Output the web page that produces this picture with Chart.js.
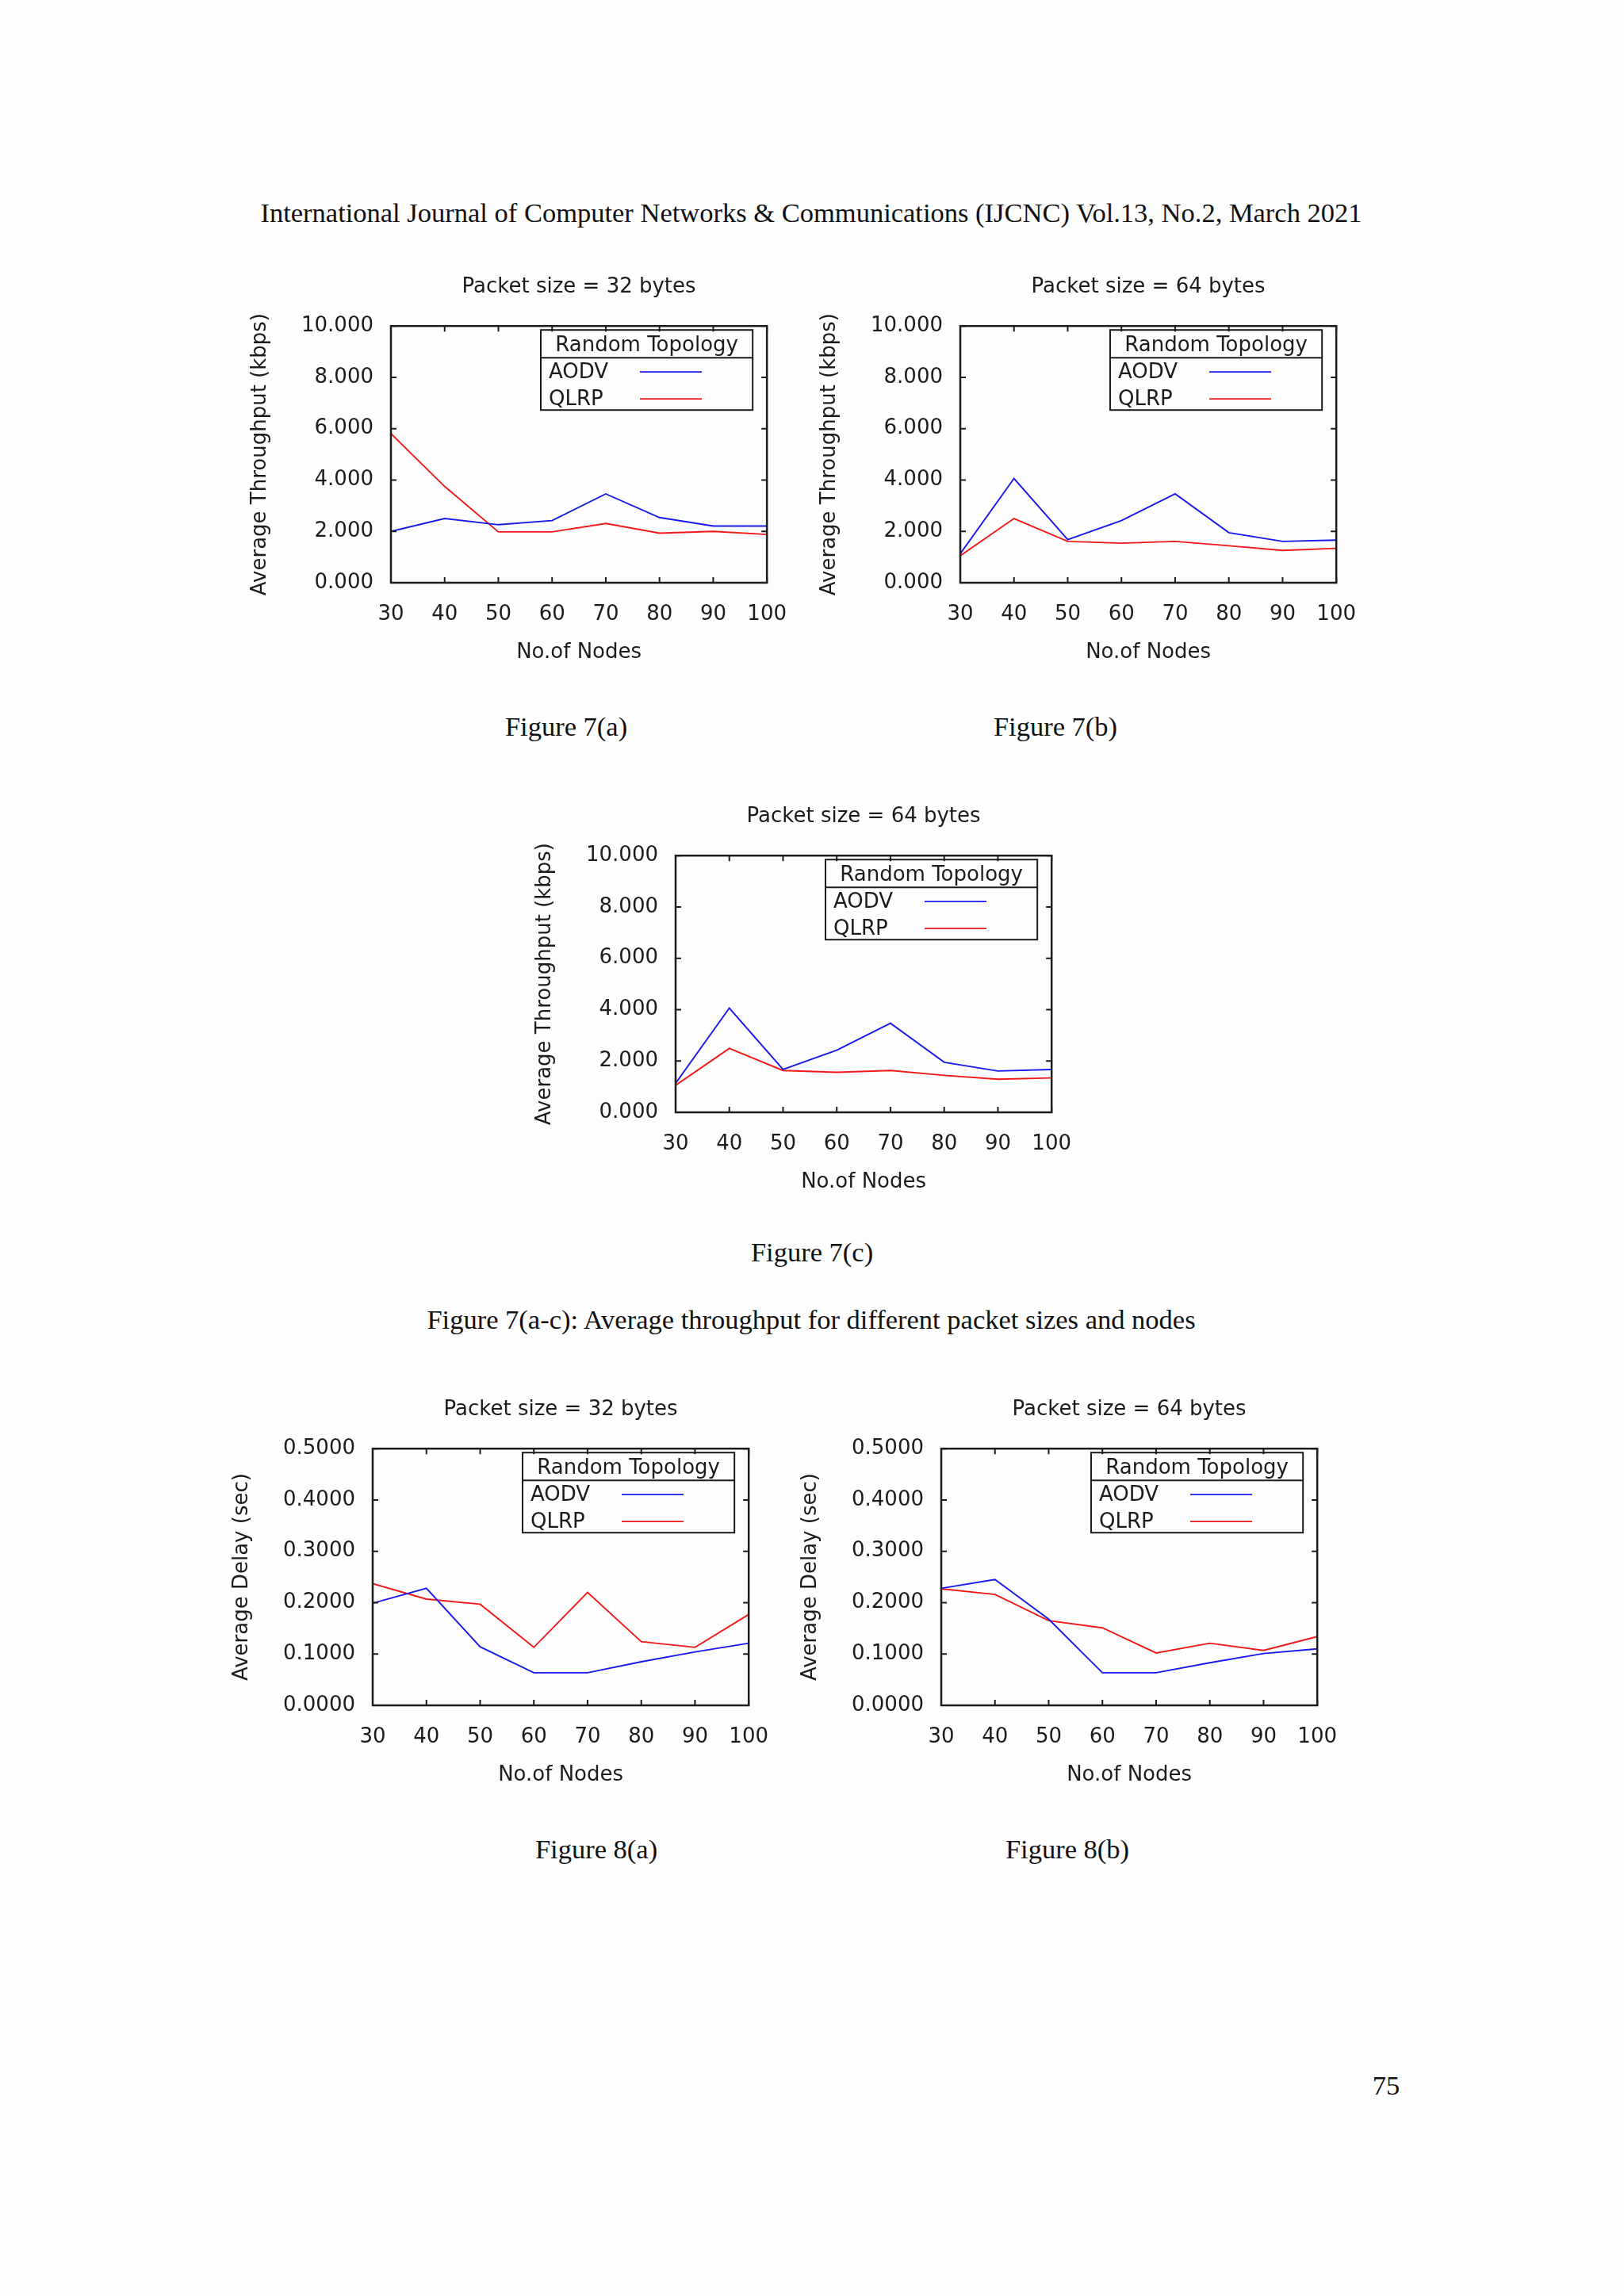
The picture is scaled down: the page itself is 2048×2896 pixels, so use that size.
<!DOCTYPE html>
<html>
<head>
<meta charset="utf-8">
<script src="https://cdn.jsdelivr.net/npm/chart.js@4.4.0/dist/chart.umd.min.js"></script>
<style>
	body { margin: 0; background: #fdfdfd; width: 2048px; height: 2896px; position: relative; overflow: hidden; font-family: "Liberation Serif", "Times New Roman", serif; color: #111; }
	.txt { position: absolute; font-size: 34.5px; line-height: 1; white-space: nowrap; transform: translate(-50%, -50%); }
	.plot { position: absolute; }
</style>
</head>
<body>
<div class="txt" style="left:1023px; top:268px;">International Journal of Computer Networks &amp; Communications (IJCNC) Vol.13, No.2, March 2021</div>

<div class="plot" style="left:293px; top:321px;"><canvas id="c7a" width="716" height="534"></canvas></div>
<div class="plot" style="left:1011px; top:321px;"><canvas id="c7b" width="716" height="534"></canvas></div>
<div class="txt" style="left:714px; top:916px;">Figure 7(a)</div>
<div class="txt" style="left:1331px; top:916px;">Figure 7(b)</div>

<div class="plot" style="left:652px; top:989px;"><canvas id="c7c" width="716" height="534"></canvas></div>
<div class="txt" style="left:1024px; top:1579px;">Figure 7(c)</div>
<div class="txt" style="left:1023px; top:1664px;">Figure 7(a-c): Average throughput for different packet sizes and nodes</div>

<div class="plot" style="left:270px; top:1737px;"><canvas id="c8a" width="716" height="534"></canvas></div>
<div class="plot" style="left:987px; top:1737px;"><canvas id="c8b" width="716" height="534"></canvas></div>
<div class="txt" style="left:752px; top:2332px;">Figure 8(a)</div>
<div class="txt" style="left:1346px; top:2332px;">Figure 8(b)</div>

<div class="txt" style="left:1748px; top:2630px;">75</div>

<script>
// x axis: number of nodes
var nodes = [30, 40, 50, 60, 70, 80, 90, 100];

// Figure 7: average throughput (kbps)
var tp32Aodv = [2.00, 2.50, 2.26, 2.42, 3.46, 2.54, 2.21, 2.21];
var tp32Qlrp = [5.81, 3.75, 1.98, 1.98, 2.31, 1.93, 2.00, 1.88];
var tp64Aodv = [1.13, 4.06, 1.68, 2.42, 3.46, 1.95, 1.61, 1.66];
var tp64Qlrp = [1.05, 2.50, 1.61, 1.54, 1.61, 1.44, 1.26, 1.34];
var tp64cAodv = [1.13, 4.06, 1.67, 2.42, 3.47, 1.95, 1.61, 1.67];
var tp64cQlrp = [1.05, 2.49, 1.63, 1.56, 1.63, 1.44, 1.29, 1.34];

// Figure 8: average delay (sec)
var dl32Aodv = [0.199, 0.228, 0.114, 0.0635, 0.0635, 0.085, 0.104, 0.121];
var dl32Qlrp = [0.237, 0.207, 0.197, 0.113, 0.220, 0.124, 0.113, 0.177];
var dl64Aodv = [0.228, 0.245, 0.168, 0.0635, 0.0635, 0.083, 0.101, 0.110];
var dl64Qlrp = [0.227, 0.216, 0.165, 0.151, 0.102, 0.121, 0.107, 0.134];

// tick values
var throughputTicks = [0, 2, 4, 6, 8, 10];
var delayTicks = [0, 0.1, 0.2, 0.3, 0.4, 0.5];

var INK = '#1c1c1c';
var BLUE = 'rgb(25,25,235)';
var RED = 'rgb(240,25,25)';
var FONT = { family: '"DejaVu Sans", sans-serif', size: 26, weight: 'normal', lineHeight: 1.2 };

function toPoints(arr) {
	return arr.map(function (v, i) { return { x: nodes[i], y: v }; });
}

// gnuplot style frame with inward ticks on all four sides
var framePlugin = {
	id: 'gnuFrame',
	afterDatasetsDraw: function (chart) {
		var ctx = chart.ctx, a = chart.chartArea;
		var xs = chart.scales.x, ys = chart.scales.y;
		var tl = 7;
		ctx.save();
		ctx.strokeStyle = INK;
		ctx.lineWidth = 2;
		ctx.beginPath();
		xs.ticks.forEach(function (t) {
			var px = xs.getPixelForValue(t.value);
			ctx.moveTo(px, a.bottom); ctx.lineTo(px, a.bottom - tl);
			ctx.moveTo(px, a.top); ctx.lineTo(px, a.top + tl);
		});
		ys.ticks.forEach(function (t) {
			var py = ys.getPixelForValue(t.value);
			ctx.moveTo(a.left, py); ctx.lineTo(a.left + tl, py);
			ctx.moveTo(a.right, py); ctx.lineTo(a.right - tl, py);
		});
		ctx.stroke();
		ctx.lineWidth = 2.5;
		ctx.strokeRect(a.left, a.top, a.right - a.left, a.bottom - a.top);
		ctx.restore();
	}
};

// boxed key: header row then one row per series
var keyPlugin = {
	id: 'gnuKey',
	afterDraw: function (chart, args, opts) {
		var ctx = chart.ctx, a = chart.chartArea;
		var l = a.left + 189, r = a.right - 18, t = a.top + 5, b = a.top + 106;
		ctx.save();
		ctx.strokeStyle = INK;
		ctx.lineWidth = 2;
		ctx.strokeRect(l, t, r - l, b - t);
		ctx.beginPath();
		ctx.moveTo(l, t + 35); ctx.lineTo(r, t + 35);
		ctx.stroke();
		ctx.font = FONT.size + 'px ' + FONT.family;
		ctx.fillStyle = INK;
		ctx.textBaseline = 'middle';
		ctx.textAlign = 'center';
		ctx.fillText(opts.title, (l + r) / 2, t + 20);
		ctx.textAlign = 'left';
		chart.data.datasets.forEach(function (ds, i) {
			var y = t + 54 + i * 34;
			ctx.fillStyle = INK;
			ctx.fillText(ds.label, l + 10, y);
			ctx.strokeStyle = ds.borderColor;
			ctx.lineWidth = 1.8;
			ctx.beginPath();
			ctx.moveTo(l + 125, y - 1); ctx.lineTo(l + 203, y - 1);
			ctx.stroke();
		});
		ctx.restore();
	}
};

function makeChart(id, title, yTitle, aodv, qlrp, yMax, tickVals, digits) {
	var ctx = document.getElementById(id).getContext('2d');
	return new Chart(ctx, {
		type: 'line',
		data: {
			datasets: [
				{ label: 'AODV', data: toPoints(aodv), borderColor: BLUE, borderWidth: 1.9, pointRadius: 0, tension: 0 },
				{ label: 'QLRP', data: toPoints(qlrp), borderColor: RED, borderWidth: 1.9, pointRadius: 0, tension: 0 }
			]
		},
		options: {
			responsive: false,
			animation: false,
			devicePixelRatio: 1,
			layout: { padding: { left: 0, right: 40, top: 0, bottom: 0 } },
			plugins: {
				legend: { display: false },
				tooltip: { enabled: false },
				title: {
					display: true,
					text: title,
					fullSize: false,
					color: INK,
					font: FONT,
					padding: { top: 26, bottom: 33 }
				},
				gnuKey: { title: 'Random Topology' }
			},
			scales: {
				x: {
					type: 'linear',
					min: 30,
					max: 100,
					afterBuildTicks: function (s) { s.ticks = nodes.map(function (v) { return { value: v }; }); },
					afterFit: function (s) { s.height = 120; },
					grid: { display: false },
					border: { display: false },
					ticks: { color: INK, font: FONT, padding: 17, maxRotation: 0 },
					title: { display: true, text: 'No.of Nodes', color: INK, font: FONT, padding: { top: 0, bottom: 16 } }
				},
				y: {
					type: 'linear',
					min: 0,
					max: yMax,
					afterBuildTicks: function (s) { s.ticks = tickVals.map(function (v) { return { value: v }; }); },
					afterFit: function (s) { s.width = 200; },
					grid: { display: false },
					border: { display: false },
					ticks: {
						color: INK,
						font: FONT,
						padding: 14,
						callback: function (v) { return Number(v).toFixed(digits); }
					},
					title: { display: true, text: yTitle, color: INK, font: FONT, padding: { top: 20, bottom: 0 } }
				}
			}
		},
		plugins: [framePlugin, keyPlugin]
	});
}

makeChart('c7a', 'Packet size = 32 bytes', 'Average Throughput (kbps)', tp32Aodv, tp32Qlrp, 10, throughputTicks, 3);
makeChart('c7b', 'Packet size = 64 bytes', 'Average Throughput (kbps)', tp64Aodv, tp64Qlrp, 10, throughputTicks, 3);
makeChart('c7c', 'Packet size = 64 bytes', 'Average Throughput (kbps)', tp64cAodv, tp64cQlrp, 10, throughputTicks, 3);
makeChart('c8a', 'Packet size = 32 bytes', 'Average Delay (sec)', dl32Aodv, dl32Qlrp, 0.5, delayTicks, 4);
makeChart('c8b', 'Packet size = 64 bytes', 'Average Delay (sec)', dl64Aodv, dl64Qlrp, 0.5, delayTicks, 4);
</script>
</body>
</html>
